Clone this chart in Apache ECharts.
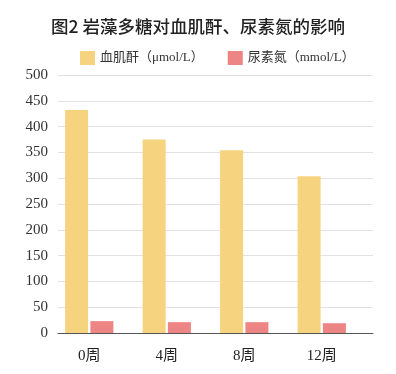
<!DOCTYPE html>
<html><head><meta charset="utf-8">
<script src="https://cdn.jsdelivr.net/npm/echarts@6/dist/echarts.min.js"></script>
<style>html,body{margin:0;padding:0;background:#fff}#c{width:396px;height:374px}</style>
</head><body><div id="c"></div>
<script>
const title = '图2 岩藻多糖对血肌酐、尿素氮的影响';
const categories = ['0周', '4周', '8周', '12周'];
const seriesNames = ['血肌酐（μmol/L）', '尿素氮（mmol/L）'];
const creatinine = [432, 375, 354, 304];
const urea = [23, 21, 21, 19];
const yTicks = [0, 50, 100, 150, 200, 250, 300, 350, 400, 450, 500];

const serif = '"Liberation Serif", "DejaVu Serif", "Noto Sans CJK SC", serif';
const chart = echarts.init(document.getElementById('c'));
chart.setOption({
  backgroundColor: '#fff',
  animation: false,
  title: {
    text: title, left: 'center', top: 13,
    textStyle: { fontFamily: '"Noto Sans CJK SC", sans-serif', fontSize: 17.5, fontWeight: 500, color: '#222' }
  },
  legend: {
    left: 75, top: 46, itemWidth: 15, itemHeight: 14, itemGap: 24,
    icon: 'rect',
    textStyle: { fontFamily: serif, fontSize: 13, color: '#333' },
    data: seriesNames
  },
  grid: [
    { left: 58, right: 23, top: 75, bottom: 41 },
    { left: 50.5, width: 310, top: 75, bottom: 41 }
  ],
  xAxis: [
    { gridIndex: 0, type: 'category', data: categories, axisTick: { show: false }, axisLabel: { show: false },
      axisLine: { lineStyle: { color: '#555', width: 1 } } },
    { gridIndex: 1, type: 'category', data: categories, axisTick: { show: false }, axisLine: { show: false },
      axisLabel: { fontFamily: serif, fontSize: 15, color: '#222', margin: 16 } }
  ],
  yAxis: [
    { gridIndex: 0, type: 'value', min: yTicks[0], max: yTicks[yTicks.length - 1], interval: 50,
      axisLine: { show: false }, axisTick: { show: false },
      axisLabel: { fontFamily: serif, fontSize: 15, color: '#333', margin: 10 },
      splitLine: { lineStyle: { color: '#e2e2e2', width: 1 } } },
    { gridIndex: 1, type: 'value', min: 0, max: 500, interval: 50, show: false, splitLine: { show: false } }
  ],
  series: [
    { name: seriesNames[0], type: 'bar', xAxisIndex: 1, yAxisIndex: 1, data: creatinine, barWidth: 23, barGap: '10%',
      itemStyle: { color: '#F6D47F' } },
    { name: seriesNames[1], type: 'bar', xAxisIndex: 1, yAxisIndex: 1, data: urea, barWidth: 23, barGap: '10%',
      itemStyle: { color: '#EE8585' } }
  ]
});
</script></body></html>
